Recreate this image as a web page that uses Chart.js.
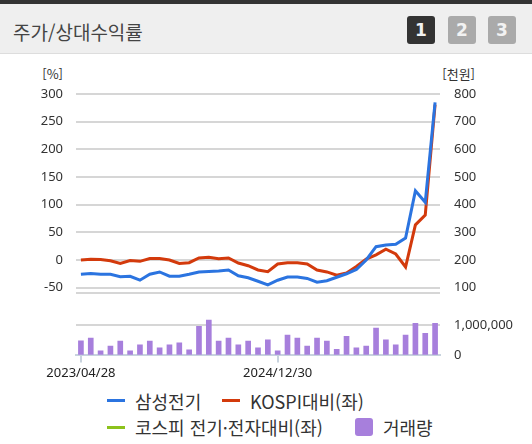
<!DOCTYPE html>
<html lang="ko">
<head>
<meta charset="utf-8">
<script src="https://cdn.jsdelivr.net/npm/chart.js@4.4.1/dist/chart.umd.min.js"></script>
<style>
  body { margin: 0; width: 532px; height: 444px; background: #fff; position: relative; overflow: hidden;
         font-family: "Noto Sans CJK KR", "Noto Sans", sans-serif; color: #333; }
  .head { position: absolute; left: 0; top: 0; width: 532px; height: 49px; background: #efefef;
          border-top: 4px solid #333; border-bottom: 1px solid #ddd; }
  .title { position: absolute; left: 13px; top: 18px; font-size: 19px; line-height: 28px; color: #444; }
  .btn { position: absolute; top: 16px; width: 28px; height: 28px; border-radius: 3px; background: #aaa;
         color: #f2f2f2; font: bold 17px "DejaVu Sans", sans-serif; line-height: 28px; text-align: center; }
  .btn.on { background: #333; }
  .unit { position: absolute; top: 65px; font: 13px "Noto Sans CJK KR", sans-serif; line-height: 18px; text-align: right; }
  canvas { position: absolute; left: 0; }
  .lg { position: absolute; font-size: 18px; line-height: 24px; color: #333; white-space: nowrap; }
  .mk { position: absolute; width: 18px; height: 3px; }
  .sq { position: absolute; width: 18px; height: 18px; border-radius: 3px; }
</style>
</head>
<body>
<div class="head"></div>
<div class="title">주가/상대수익률</div>
<div class="btn on" style="left:407px">1</div>
<div class="btn" style="left:448px">2</div>
<div class="btn" style="left:488px">3</div>

<div class="unit" style="left:30px;width:33px">[%]</div>
<div class="unit" style="left:430px;width:45px">[천원]</div>

<canvas id="main" width="532" height="221" style="top:80px"></canvas>
<canvas id="vol" width="532" height="79" style="top:305px"></canvas>

<div class="mk" style="left:107px;top:399px;background:#2b74e0"></div>
<div class="lg" style="left:135px;top:389px">삼성전기</div>
<div class="mk" style="left:222px;top:399px;background:#d33a0c"></div>
<div class="lg" style="left:250px;top:389px">KOSPI대비(좌)</div>
<div class="mk" style="left:107px;top:426px;background:#8cc21c"></div>
<div class="lg" style="left:135px;top:415px">코스피 전기·전자대비(좌)</div>
<div class="sq" style="left:355px;top:418px;background:#a77fdc"></div>
<div class="lg" style="left:383px;top:415px">거래량</div>

<script>
const dates = [
  "2023/04/28", "2023/05/31", "2023/06/30", "2023/07/31", "2023/08/31", "2023/09/27",
  "2023/10/31", "2023/11/30", "2023/12/28", "2024/01/31", "2024/02/29", "2024/03/29",
  "2024/04/30", "2024/05/31", "2024/06/28", "2024/07/31", "2024/08/30", "2024/09/30",
  "2024/10/31", "2024/11/29", "2024/12/30", "2025/01/31", "2025/02/28", "2025/03/31",
  "2025/04/30", "2025/05/30", "2025/06/30", "2025/07/31", "2025/08/29", "2025/09/30",
  "2025/10/31", "2025/11/28", "2025/12/30", "2026/01/30", "2026/02/27", "2026/03/31",
  "2026/04/30"
];
const shownDates = ["2023/04/28", "2024/12/30"];

// 삼성전기 price, thousand won (right axis)
const price = [
  148.5, 151, 148.5, 148.5, 139.5, 141.3, 127, 148.5, 156.8, 141.3, 141.3, 148.5,
  156.8, 158.3, 160.4, 163.6, 143.1, 135.9, 123.3, 110, 126.9, 138.5, 138.5, 133.4,
  119.7, 125.1, 137.7, 150.3, 165.8, 200, 248.2, 254, 257.2, 279.5, 449.8, 408.4,
  770
];
// relative return vs KOSPI, % (left axis)
const vsKospi = [
  0, 1.5, 0.8, -1.5, -6.3, -0.9, -2.4, 2.7, 2.7, 0, -6.3, -4.9,
  3.6, 5, 2.3, 3.6, -5.4, -10.3, -18, -21.1, -7.2, -4.9, -4.9, -7.2,
  -18, -21.6, -27.6, -23.4, -11.7, 1.8, 9.3, 19.4, 10.8, -12.6, 63.5, 81.3,
  281
];
const volume = [
  490000, 580000, 150000, 310000, 480000, 150000, 350000, 480000, 250000, 350000, 420000, 190000,
  970000, 1180000, 480000, 580000, 350000, 480000, 250000, 520000, 150000, 680000, 580000, 310000,
  580000, 480000, 200000, 640000, 250000, 310000, 910000, 520000, 350000, 680000, 1070000, 740000,
  1070000
];
const pctTicks = [-60, -50, 0, 50, 100, 150, 200, 250, 300];
const wonTicks = [80, 100, 200, 300, 400, 500, 600, 700, 800];
const volTicks = [0, 1000000];

const tickFont = { family: "Noto Sans", size: 13 };
const gridColor = "#d6d6d6";
const setTicks = (list) => (s) => { s.ticks = list.map((v) => ({ value: v })); };

// label gap is made with an invisible tick mark, so ticks.padding stays 0
// (ticks.padding also pads the chart area top/bottom on vertical axes)
new Chart(document.getElementById("main"), {
  type: "line",
  data: {
    labels: dates,
    datasets: [
      { label: "삼성전기", data: price, yAxisID: "y2", borderColor: "#2b74e0", borderWidth: 3,
        pointRadius: 0, tension: 0 },
      { label: "KOSPI대비(좌)", data: vsKospi, yAxisID: "y", borderColor: "#d33a0c", borderWidth: 3,
        pointRadius: 0, tension: 0 }
    ]
  },
  options: {
    responsive: false,
    animation: false,
    layout: { padding: { top: 14, bottom: 0 } },
    plugins: { legend: { display: false }, tooltip: { enabled: false } },
    scales: {
      x: { display: false, offset: true },
      y: {
        position: "left",
        min: pctTicks[0], max: pctTicks[pctTicks.length - 1],
        afterBuildTicks: setTicks(pctTicks),
        afterFit: (s) => { s.width = 76; },
        border: { display: false },
        grid: { color: gridColor, lineWidth: 2, tickLength: 13, tickColor: "rgba(0,0,0,0)" },
        ticks: {
          autoSkip: false, padding: 0, color: "#333", font: tickFont,
          callback: (v) => (v === pctTicks[0] ? "" : v)
        }
      },
      y2: {
        position: "right",
        min: wonTicks[0], max: wonTicks[wonTicks.length - 1],
        afterBuildTicks: setTicks(wonTicks),
        afterFit: (s) => { s.width = 92; },
        border: { display: false },
        grid: { display: false, tickLength: 14 },
        ticks: {
          autoSkip: false, padding: 0, color: "#333", font: tickFont,
          callback: (v) => (v === wonTicks[0] ? "" : v)
        }
      }
    }
  }
});

new Chart(document.getElementById("vol"), {
  type: "bar",
  data: {
    labels: dates,
    datasets: [
      { label: "거래량", data: volume, yAxisID: "v", backgroundColor: "#a77fdc", barThickness: 5 }
    ]
  },
  options: {
    responsive: false,
    animation: false,
    layout: { padding: { top: 13, left: 76 } },
    plugins: { legend: { display: false }, tooltip: { enabled: false } },
    scales: {
      x: {
        afterBuildTicks: (s) => { s.ticks = s.ticks.filter((t) => shownDates.includes(dates[t.value])); },
        border: { color: "#c8d3de", width: 2 },
        grid: { offset: false, drawOnChartArea: false, tickLength: 7, color: "#c8d3de", lineWidth: 2 },
        ticks: { maxRotation: 0, autoSkip: false, padding: 3, color: "#222", font: tickFont }
      },
      v: {
        position: "right",
        min: 0, max: 1250000,
        afterBuildTicks: setTicks(volTicks),
        afterFit: (s) => { s.width = 92; },
        border: { display: false },
        grid: { color: gridColor, lineWidth: 2, tickLength: 14, tickColor: "rgba(0,0,0,0)" },
        ticks: { padding: 0, color: "#333", font: tickFont,
                 callback: (v) => v.toLocaleString("en-US") }
      }
    }
  }
});
</script>
</body>
</html>
